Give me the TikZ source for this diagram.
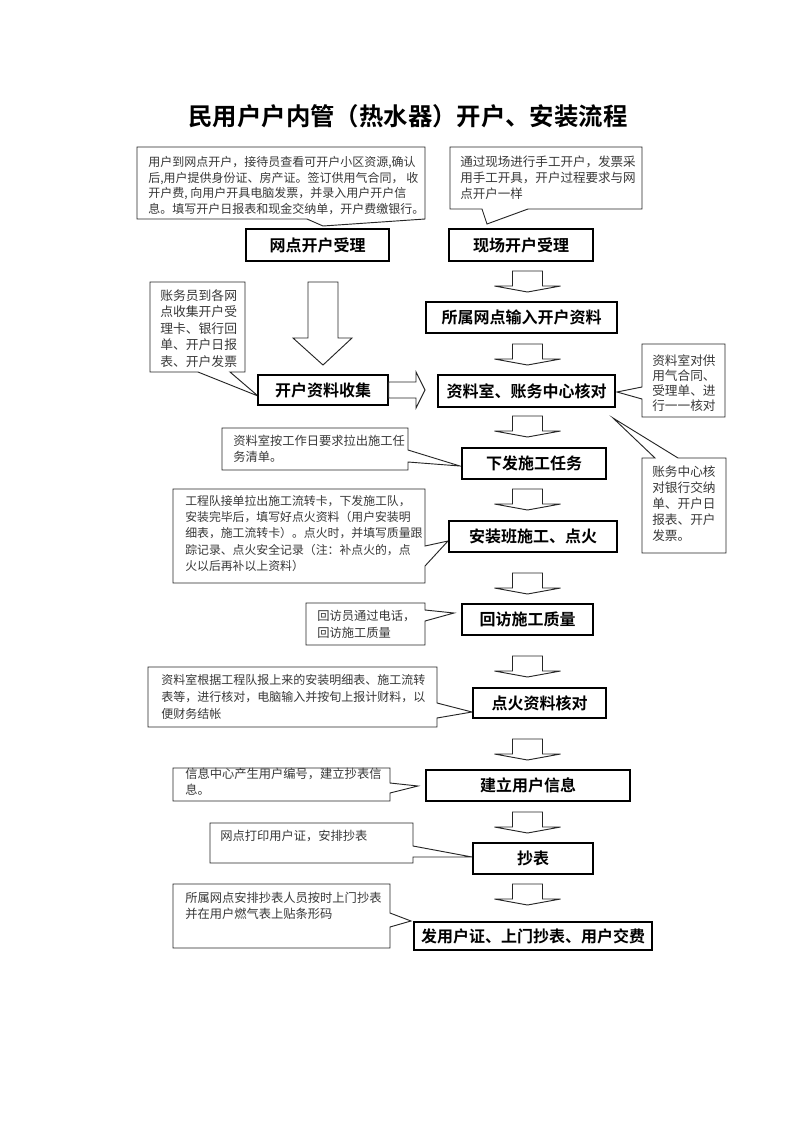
\documentclass[tikz,border=0pt]{standalone}
\usepackage{fontspec}
\setmainfont{Noto Sans CJK SC}[BoldFont={Noto Sans CJK SC Bold}]
\newcommand\hollowdown[2]{% center x, top y
  \draw[harrow] ({#1-15},#2) -- ({#1+15},#2) -- ({#1+15},{#2+15}) -- ({#1+33},{#2+15})
    -- (#1,{#2+21}) -- ({#1-33},{#2+15}) -- ({#1-15},{#2+15}) -- cycle;}
\newcommand\flowbox[6]{%
  \node[fbox, minimum width={(#4-#2)*0.75pt}, minimum height={(#5-#3)*0.75pt}]
    (#1) at ({(#2+#4)/2},{(#3+#5)/2}) {#6};}
\begin{document}
\begin{tikzpicture}[x=0.75pt,y=-0.75pt,
  fbox/.style={draw=black, line width=0.8pt, fill=white, inner sep=0pt,
    font=\bfseries\fontsize{12}{14}\selectfont},
  note/.style={draw=black!85, line width=0.7pt, fill=white, line join=miter},
  notetext/.style={anchor=north west, inner sep=0pt, align=left, text=black!78,
    font=\fontsize{9.2}{11.8}\selectfont},
  narrowtext/.style={notetext, font=\fontsize{9.5}{12}\selectfont},
  harrow/.style={draw=black!85, line width=0.7pt, fill=white, line join=miter}
]
\useasboundingbox (0,0) rectangle (793,1122);

% title
\node[font=\bfseries\fontsize{18.3}{22}\selectfont] (title) at (408,116)
  {民用户户内管（热水器）开户、安装流程};

% callouts (shapes)
\draw[note] (137,147) -- (425,147) -- (425,219) -- (323,226) -- (307,219) -- (137,219) -- cycle;
\draw[note] (450,147) -- (642,147) -- (642,209) -- (528,209) -- (487,224) -- (482,209) -- (450,209) -- cycle;
\draw[note] (150,282) -- (245,282) -- (245,372) -- (230,372) -- (258,396) -- (198,372) -- (150,372) -- cycle;
\draw[note] (642,344) -- (725,344) -- (725,417) -- (642,417) -- (642,399) -- (617,392) -- (642,387) -- cycle;
\draw[note] (642,458) -- (655,458) -- (613,418) -- (678,458) -- (726,458) -- (726,553) -- (642,553) -- cycle;
\draw[note] (222,428) -- (408,428) -- (408,450) -- (460,466) -- (408,462) -- (408,470) -- (222,470) -- cycle;
\draw[note] (173,489) -- (425,489) -- (425,546) -- (448,541) -- (425,566) -- (425,583) -- (173,583) -- cycle;
\draw[note] (306,603) -- (425,603) -- (425,610) -- (454,613) -- (425,621) -- (425,645) -- (306,645) -- cycle;
\draw[note] (148,667) -- (437,667) -- (437,703) -- (472,712) -- (437,718) -- (437,727) -- (148,727) -- cycle;
\draw[note] (173,768) -- (390,768) -- (390,783) -- (418,786) -- (390,793) -- (390,801) -- (173,801) -- cycle;
\draw[note] (210,823) -- (413,823) -- (413,846) -- (472,857) -- (413,857) -- (413,863) -- (210,863) -- cycle;
\draw[note] (173,884) -- (390,884) -- (390,913) -- (411,921) -- (390,927) -- (390,948) -- (173,948) -- cycle;

% callout texts
\node[notetext, font=\fontsize{9.0}{11.8}\selectfont] (n1) at (148,156) {用户到网点开户，接待员查看可开户小区资源,确认\\后,用户提供身份证、房产证。签订供用气合同，\ 收\\开户费, 向用户开具电脑发票，并录入用户开户信\\息。填写开户日报表和现金交纳单，开户费缴银行。};
\node[notetext, font=\fontsize{9.4}{11.8}\selectfont] (n2) at (460,156) {通过现场进行手工开户，发票采\\用手工开具，开户过程要求与网\\点开户一样};
\node[narrowtext, font=\fontsize{9.6}{12.4}\selectfont] (n3) at (160,289) {账务员到各网\\点收集开户受\\理卡、银行回\\单、开户日报\\表、开户发票};
\node[narrowtext, font=\fontsize{9.5}{11.4}\selectfont] (n4) at (652,354) {资料室对供\\用气合同、\\受理单、进\\行一一核对};
\node[narrowtext] (n5) at (652,466) {账务中心核\\对银行交纳\\单、开户日\\报表、开户\\发票。};
\node[notetext] (n6) at (233,435) {资料室按工作日要求拉出施工任\\务清单。};
\node[notetext, font=\fontsize{8.9}{12.2}\selectfont] (n7) at (185,495) {工程队接单拉出施工流转卡，下发施工队，\\安装完毕后，填写好点火资料（用户安装明\\细表，施工流转卡）。点火时，并填写质量跟\\踪记录、点火安全记录（注：补点火的，点\\火以后再补以上资料）};
\node[notetext, font=\fontsize{9.2}{12.8}\selectfont] (n8) at (317,610) {回访员通过电话，\\回访施工质量};
\node[notetext, font=\fontsize{9.0}{12.6}\selectfont] (n9) at (161,674) {资料室根据工程队报上来的安装明细表、施工流转\\表等，进行核对，电脑输入并按旬上报计财料，以\\便财务结帐};
\node[notetext] (n10) at (185,768) {信息中心产生用户编号，建立抄表信\\息。};
\node[notetext] (n11) at (220,830) {网点打印用户证，安排抄表};
\node[notetext] (n12) at (185,892) {所属网点安排抄表人员按时上门抄表\\并在用户燃气表上贴条形码};

% boxes
\flowbox{b1}{246}{229}{389}{261}{网点开户受理}
\flowbox{b2}{449}{229}{593}{261}{现场开户受理}
\flowbox{b3}{426}{302}{617}{333}{所属网点输入开户资料}
\flowbox{b4}{258}{375}{388}{405}{开户资料收集}
\flowbox{b5}{438}{375}{615}{407}{资料室、账务中心核对}
\flowbox{b6}{462}{448}{606}{479}{下发施工任务}
\flowbox{b7}{449}{521}{617}{552}{安装班施工、点火}
\flowbox{b8}{462}{604}{593}{635}{回访施工质量}
\flowbox{b9}{473}{688}{606}{718}{点火资料核对}
\flowbox{b10}{426}{770}{630}{801}{建立用户信息}
\flowbox{b11}{473}{843}{593}{874}{抄表}
\flowbox{b12}{414}{922}{652}{950}{发用户证、上门抄表、用户交费}

% big hollow arrows
\draw[harrow] (308,282) -- (338,282) -- (338,338) -- (352,338) -- (323,365) -- (293,338) -- (308,338) -- cycle;
\draw[harrow] (b4.east |- 0,382) -- (416,382) -- (416,372) -- (425,390) -- (416,408) -- (416,398) -- (b4.east |- 0,398) -- cycle;

% small hollow arrows
\hollowdown{527.5}{271}
\hollowdown{527.5}{344}
\hollowdown{527.5}{416}
\hollowdown{527.5}{489}
\hollowdown{527.5}{573}
\hollowdown{527.5}{656}
\hollowdown{527.5}{739}
\hollowdown{527.5}{812}
\hollowdown{527.5}{884}
\end{tikzpicture}
\end{document}
